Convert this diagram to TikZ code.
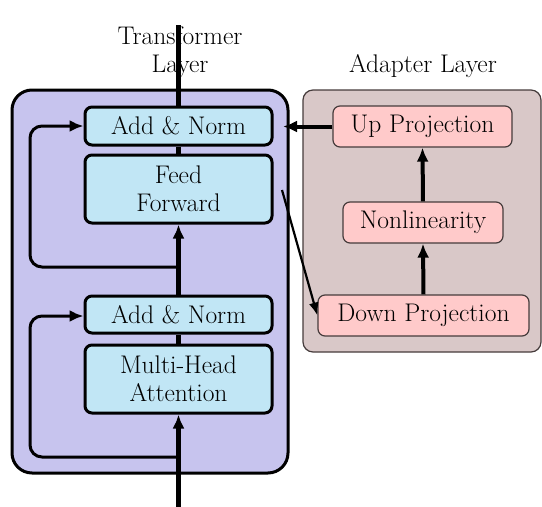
\documentclass[tikz,border=0pt]{standalone}
\usepackage{fontspec}
\setmainfont{Latin Modern Roman}
\usetikzlibrary{arrows.meta}
\definecolor{tfbg}{RGB}{199,196,238}
\definecolor{tfnode}{RGB}{193,230,245}
\definecolor{adbg}{RGB}{217,200,200}
\definecolor{adnode}{RGB}{255,202,202}
\definecolor{adedge}{RGB}{70,60,60}
\begin{document}
\begin{tikzpicture}[x=1pt,y=-1pt,
  every node/.style={font=\fontsize{25.5}{28}\selectfont, inner sep=0pt},
  tfbox/.style={draw=black, line width=3pt, fill=tfbg, rounded corners=20pt},
  adbox/.style={draw=adedge, line width=1.2pt, fill=adbg, rounded corners=10pt},
  tfnode/.style={draw=black, line width=3pt, fill=tfnode, rounded corners=7pt, minimum width=187pt, align=center},
  adnode/.style={draw=adedge, line width=1.2pt, fill=adnode, rounded corners=7pt, minimum height=41pt},
  mainline/.style={line width=4.5pt},
  loopline/.style={line width=3pt, rounded corners=12pt, -{Latex[length=14pt,width=12pt]}},
  thickarrow/.style={line width=4pt, -{Latex[length=14pt,width=12pt]}},
  thinarrow/.style={line width=2.2pt, -{Latex[length=13pt,width=10pt]}}
]
\useasboundingbox (0,0) rectangle (542,507);
% containers
\draw[tfbox] (12,90) rectangle (288,473);
\draw[adbox] (303,90) rectangle (541,352);
% labels
\node[align=center] (tflabel) at (180,52) {Transformer\\Layer};
\node (adlabel) at (423,66) {Adapter Layer};
% transformer nodes
\node[tfnode, minimum height=38pt] (an1) at (178.5,126) {Add \& Norm};
\node[tfnode, minimum height=68pt] (ff) at (178.5,189) {Feed\\Forward};
\node[tfnode, minimum height=37pt] (an2) at (178.5,314.5) {Add \& Norm};
\node[tfnode, minimum height=68pt] (mha) at (178.5,379) {Multi-Head\\Attention};
% adapter nodes
\node[adnode, minimum width=179pt] (up) at (422.5,126.5) {Up Projection};
\node[adnode, minimum width=160pt] (nl) at (423,222.5) {Nonlinearity};
\node[adnode, minimum width=211pt] (down) at (423.5,315.5) {Down Projection};
% coordinates
\coordinate (top) at (178.5,25);
\coordinate (bot) at (178.5,507);
\coordinate (r1) at (178.5,267);
\coordinate (r2) at (178.5,457);
\coordinate (upin) at (283,126.5);
\coordinate (ffout) at (282,190);
% main line
\draw[mainline] (an1.north) -- (top);
\draw[mainline] (an1.south) -- (ff.north);
\draw[mainline, -{Latex[length=14pt,width=12pt]}] (an2.north) -- (ff.south);
\draw[mainline] (an2.south) -- (mha.north);
\draw[mainline, -{Latex[length=14pt,width=12pt]}] (bot) -- (mha.south);
% residual loops
\draw[loopline] (r1) -- (30,267) -- (30,126) -- (an1.west);
\draw[loopline] (r2) -- (30,457) -- (30,316) -- (an2.west |- 0,316);
% adapter arrows
\draw[thickarrow] (up.west) -- (upin);
\draw[thickarrow] (nl.north) -- (up.south);
\draw[thickarrow] (down.north) -- (nl.south);
\draw[thinarrow] (ffout) -- (down.west);
\end{tikzpicture}
\end{document}
